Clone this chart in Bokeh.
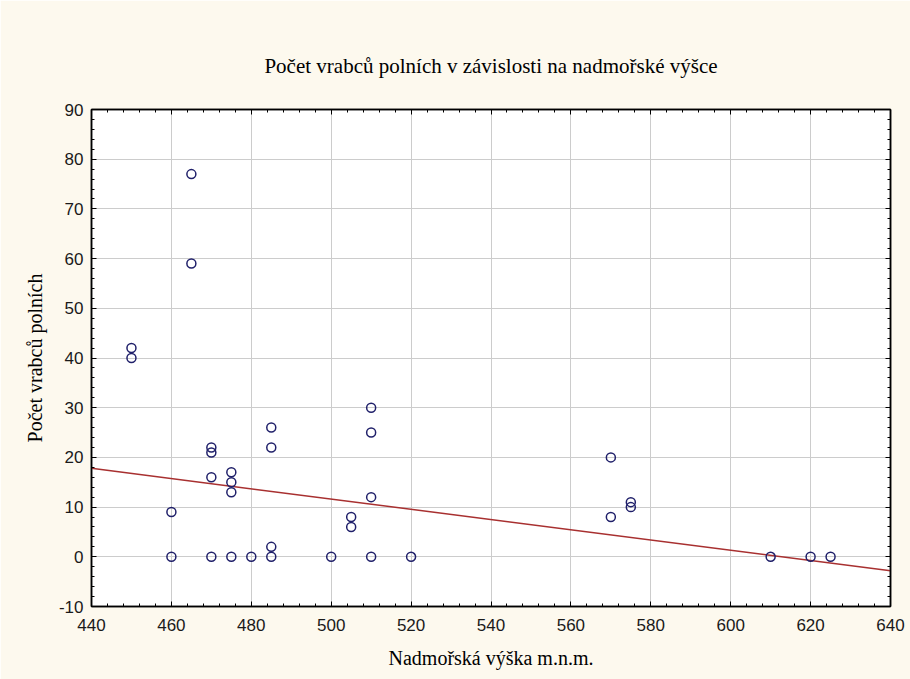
from bokeh.plotting import figure
from bokeh.models import (Range1d, SingleIntervalTicker, LinearAxis, Title,
                          ColumnDataSource, CustomJSTickFormatter)
from bokeh.embed import file_html
from bokeh.resources import INLINE

# Data
altitude = [450, 450, 465, 465, 460, 460, 470, 470, 470, 470, 475, 475, 475, 475,
            480, 485, 485, 485, 485, 500, 505, 505, 510, 510, 510, 510, 520,
            570, 570, 575, 575, 610, 620, 625]
count = [42, 40, 77, 59, 9, 0, 22, 21, 16, 0, 17, 15, 13, 0,
         0, 26, 22, 2, 0, 0, 8, 6, 30, 25, 12, 0, 0,
         20, 8, 11, 10, 0, 0, 0]
fit_x = [440, 640]
fit_y = [17.8, -2.8]

title_text = "Počet vrabců polních v závislosti na nadmořské výšce"
x_label = "Nadmořská výška m.n.m."
y_label = "Počet vrabců polních"

SERIF = "'Liberation Serif', 'Times New Roman', serif"
SANS = "'Liberation Sans', Arial, sans-serif"
BG = "#fdf9ee"

p = figure(width=910, height=679, output_backend="svg", toolbar_location=None,
           x_range=Range1d(440, 640), y_range=Range1d(-10, 90),
           min_border_left=91, min_border_right=20, min_border_top=109, min_border_bottom=73)
p.title = None

p.background_fill_color = "white"
p.border_fill_color = BG
p.outline_line_color = "black"
p.outline_line_width = 1.5

xt = SingleIntervalTicker(interval=20, num_minor_ticks=5)
yt = SingleIntervalTicker(interval=10, num_minor_ticks=5)
fmt = CustomJSTickFormatter(code="return tick.toFixed(0);")

def style(ax, labels=True):
    ax.axis_line_color = "black"
    ax.axis_line_width = 1.5
    ax.major_tick_in = 5
    ax.major_tick_out = 0
    ax.minor_tick_in = 3
    ax.minor_tick_out = 0
    ax.major_tick_line_color = "black"
    ax.minor_tick_line_color = "black"
    ax.major_label_text_font = SANS
    if labels:
        ax.major_label_text_font_size = "17px"
        ax.major_label_text_color = "#1a1a1a"
    else:
        ax.major_label_text_font_size = "0px"
        ax.major_label_text_color = None
    ax.axis_label_text_font = SERIF
    ax.axis_label_text_font_style = "normal"
    ax.axis_label_text_font_size = "20px"
    ax.axis_label_text_color = "black"

p.xaxis.ticker = xt
p.yaxis.ticker = yt
p.xaxis.formatter = fmt
p.yaxis.formatter = fmt
style(p.xaxis[0])
style(p.yaxis[0])
p.xaxis.axis_label = x_label
p.yaxis.axis_label = y_label
p.xaxis.major_label_standoff = 12
p.xaxis.axis_label_standoff = 13
p.yaxis.major_label_standoff = 8
p.yaxis.axis_label_standoff = 10

top = LinearAxis(ticker=SingleIntervalTicker(interval=20, num_minor_ticks=5))
right = LinearAxis(ticker=SingleIntervalTicker(interval=10, num_minor_ticks=5))
style(top, labels=False)
style(right, labels=False)
top.major_label_standoff = 0
right.major_label_standoff = 0
p.add_layout(top, "above")
p.add_layout(right, "right")

p.add_layout(Title(text=title_text, align="center", text_font=SERIF, text_font_size="21px",
                   text_font_style="normal", text_color="black", standoff=63), "above")

p.xgrid.ticker = xt
p.ygrid.ticker = yt
p.grid.grid_line_color = "#cccccc"
p.grid.grid_line_width = 1

p.line(fit_x, fit_y, line_color="#a83030", line_width=1.5)
src = ColumnDataSource(dict(x=altitude, y=count))
p.scatter("x", "y", source=src, marker="circle", size=9, fill_color=None,
          line_color="#20206a", line_width=1.5)

open("out.html", "w").write(file_html(p, INLINE))
